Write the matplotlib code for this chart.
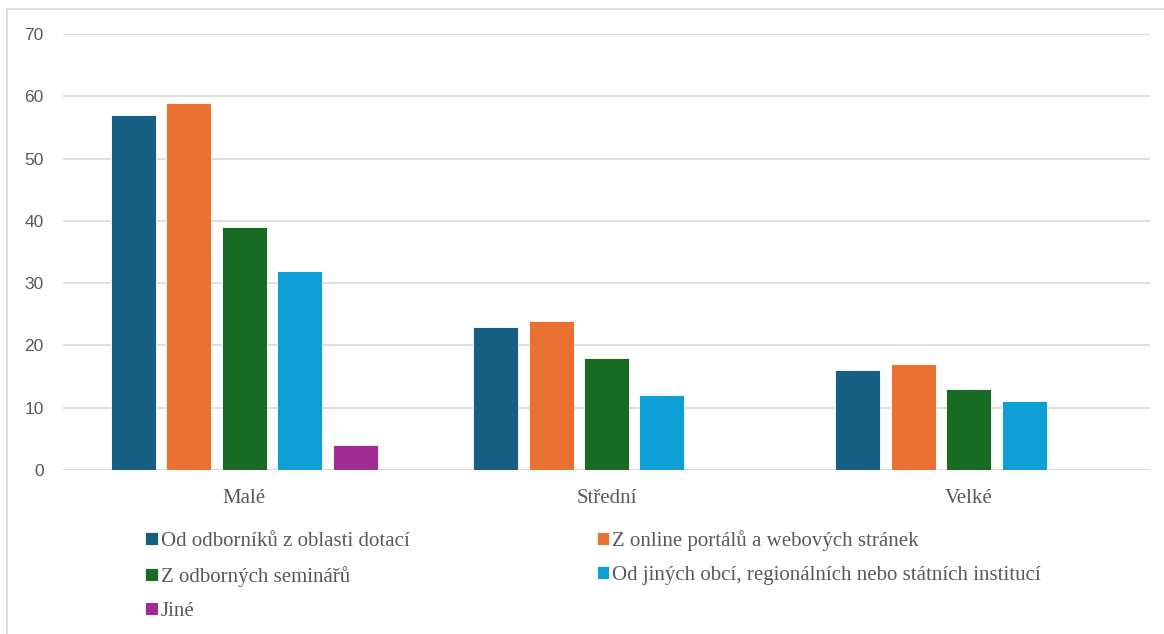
import numpy as np
import matplotlib.pyplot as plt
from matplotlib.patches import Rectangle

categories = ['Malé', 'Střední', 'Velké']
series_names = [
    'Od odborníků z oblasti dotací',
    'Z online portálů a webových stránek',
    'Z odborných seminářů',
    'Od jiných obcí, regionálních nebo státních institucí',
    'Jiné',
]
od_odborniku = [57, 23, 16]
z_online = [59, 24, 17]
z_seminaru = [39, 18, 13]
od_jinych_obci = [32, 12, 11]
jine = [4, 0, 0]

colors = ['#156082', '#E97132', '#196B24', '#0F9ED5', '#A02B93']
text_col = '#595959'
grid_col = '#d9d9d9'

fig = plt.figure(figsize=(11.64, 6.34), dpi=100)
ax = fig.add_axes([63 / 1164, 1 - 470 / 634, 1087 / 1164, (470 - 34) / 634])

x = np.arange(len(categories))
step = 0.153
width = 0.124
handles = []
for i, vals in enumerate([od_odborniku, z_online, z_seminaru, od_jinych_obci, jine]):
    b = ax.bar(x + (i - 2) * step, vals, width, color=colors[i],
               edgecolor='white', linewidth=0.6, label=series_names[i], zorder=3)
    handles.append(b)

ax.set_xlim(-0.5, 2.5)
ax.set_ylim(0, 70)
ax.set_yticks(range(0, 71, 10))
ax.yaxis.grid(True, color=grid_col, linewidth=1.2, zorder=0)
ax.set_axisbelow(True)
for s in ax.spines.values():
    s.set_visible(False)
ax.axhline(0, color=grid_col, linewidth=1.2, zorder=2)
ax.tick_params(axis='both', length=0)
ax.tick_params(axis='y', pad=14, labelsize=12.5, labelcolor=text_col)
for lab in ax.get_yticklabels():
    lab.set_fontfamily('Liberation Sans')
ax.set_xticks(x)
ax.set_xticklabels(categories, fontfamily='Liberation Serif', fontsize=15, color=text_col)
ax.tick_params(axis='x', pad=14)

# legend fills columns first, so reorder to get the row layout
order = [0, 2, 4, 1, 3]
leg = ax.legend([handles[k] for k in order], [series_names[k] for k in order],
                ncol=2, loc='upper left', bbox_to_anchor=(145 / 1164, 1 - 530 / 634),
                bbox_transform=fig.transFigure, frameon=False,
                prop={'family': 'Liberation Serif', 'size': 15},
                handlelength=0.6, handleheight=0.55, handletextpad=0.15,
                labelspacing=0.72, columnspacing=9.0, borderpad=0, borderaxespad=0)
for t in leg.get_texts():
    t.set_color(text_col)

fig.patches.append(Rectangle((7 / 1164, -0.1), 1.2, 1.1 - 9 / 634, transform=fig.transFigure,
                             fill=False, edgecolor=grid_col, linewidth=1.2))

fig.savefig('out.png', dpi=100)
